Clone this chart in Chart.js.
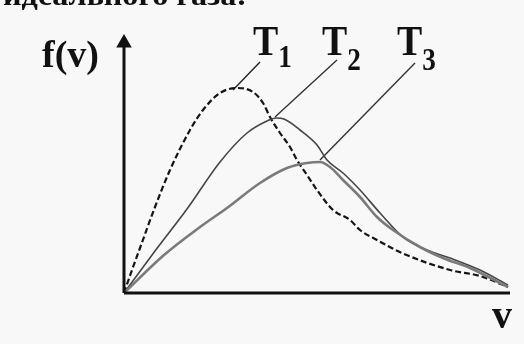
<!DOCTYPE html>
<html>
<head>
<meta charset="utf-8">
<script src="https://cdn.jsdelivr.net/npm/chart.js@4.4.0/dist/chart.umd.min.js"></script>
<style>
  html, body { margin: 0; padding: 0; background: #f8f8f8; }
</style>
</head>
<body>
<canvas id="chart" width="524" height="344"></canvas>
<script>
// speed (v) and distribution value f(v)
const vT1 = [0, 8, 16, 31, 46, 66, 79, 96, 113, 129, 139, 146, 156, 166, 173, 183, 193, 209, 226, 236, 253, 278, 326, 356, 384];
const fT1 = [0, 23, 45, 86, 123, 163, 183, 200, 205, 201, 190, 176, 160, 146, 133, 118, 103, 83, 73, 63, 53, 40, 23, 17, 6];

const vT2 = [0, 31, 63, 96, 123, 143, 152, 160, 176, 193, 203, 219, 236, 256, 279, 303, 326, 356, 384];
const fT2 = [0, 42, 84, 131, 160, 172, 175, 174, 163, 148, 133, 120, 103, 80, 56, 43, 35, 23, 8];

const vT3 = [0, 40, 76, 103, 136, 163, 183, 196, 206, 219, 236, 253, 269, 296, 319, 346, 384];
const fT3 = [0, 38, 66, 85, 110, 125, 130, 131, 126, 113, 96, 76, 63, 46, 35, 25, 6];

// leader lines from the labels down to each curve
const leaderT1 = [[136, 231], [109, 203]];
const leaderT2 = [[213, 233], [151, 176]];
const leaderT3 = [[291, 230], [196, 133]];

const seriesLabels = ['T', 'T', 'T'];
const seriesSubs = ['1', '2', '3'];

const axisV = [0, 386];
const axisF = [0, 250];

const toPoints = (xs, ys) => xs.map((x, i) => ({ x: x, y: ys[i] }));
const pairPoints = (pairs) => pairs.map(p => ({ x: p[0], y: p[1] }));

const textPlugin = {
  id: 'texts',
  beforeDraw(chart) {
    const ctx = chart.ctx;
    ctx.save();
    ctx.fillStyle = '#f8f8f8';
    ctx.fillRect(0, 0, chart.width, chart.height);
    ctx.restore();
  },
  afterDraw(chart) {
    const ctx = chart.ctx;
    const sx = chart.scales.x;
    const sy = chart.scales.y;
    ctx.save();
    ctx.fillStyle = '#111';
    ctx.textBaseline = 'alphabetic';
    ctx.textAlign = 'left';

    // heading cut off at the top of the scan
    ctx.font = 'bold 30px "Liberation Serif"';
    const head = 'идеального газа:';
    const hw = ctx.measureText(head).width;
    ctx.save();
    ctx.translate(3, 5);
    ctx.scale(244 / hw, 1);
    ctx.fillText(head, 0, 0);
    ctx.restore();

    // axis names
    ctx.font = 'bold 38px "Liberation Serif"';
    ctx.fillText('f(v)', 42, 67);
    ctx.font = 'bold 40px "Liberation Serif"';
    ctx.fillText('v', sx.getPixelForValue(368), sy.getPixelForValue(-35));

    // T1, T2, T3
    const labelX = [129, 198, 273];
    const subDrop = [12, 15, 15];
    for (let i = 0; i < seriesLabels.length; i++) {
      const lx = sx.getPixelForValue(labelX[i]);
      const ly = sy.getPixelForValue(238);
      ctx.save();
      ctx.translate(lx, ly);
      ctx.scale(0.9, 1);
      ctx.font = 'bold 42px "Liberation Serif"';
      ctx.fillText(seriesLabels[i], 0, 0);
      const tw = ctx.measureText(seriesLabels[i]).width;
      ctx.restore();
      ctx.save();
      ctx.translate(lx + tw * 0.9, ly + subDrop[i]);
      ctx.scale(0.85, 1);
      ctx.font = 'bold 32px "Liberation Serif"';
      ctx.fillText(seriesSubs[i], 0, 0);
      ctx.restore();
    }
    ctx.restore();
  }
};

const curve = (data, color, width, dash) => ({
  data: data,
  showLine: true,
  borderColor: color,
  borderWidth: width,
  borderDash: dash || [],
  pointRadius: 0,
  cubicInterpolationMode: 'monotone',
  clip: false
});

new Chart(document.getElementById('chart').getContext('2d'), {
  type: 'scatter',
  data: {
    datasets: [
      {
        data: [{ x: axisV[0], y: 0 }, { x: axisV[1], y: 0 }],
        showLine: true, borderColor: '#111', borderWidth: 3, pointRadius: 0, clip: false
      },
      {
        data: [{ x: 0, y: axisF[0] }, { x: 0, y: axisF[1] }],
        showLine: true, borderColor: '#111', borderWidth: 3,
        pointRadius: [0, 6], pointStyle: 'triangle', pointRotation: 0,
        pointBackgroundColor: '#111', pointBorderColor: '#111', clip: false
      },
      curve(toPoints(vT3, fT3), '#7a7a7a', 2.6),
      curve(toPoints(vT2, fT2), '#454545', 1.6),
      curve(toPoints(vT1, fT1), '#151515', 2.2, [6, 3]),
      curve(pairPoints(leaderT1), '#222', 1.4),
      curve(pairPoints(leaderT2), '#333', 1.4),
      curve(pairPoints(leaderT3), '#333', 1.4)
    ]
  },
  options: {
    responsive: false,
    animation: false,
    layout: { padding: { left: 124, right: 14, top: 38, bottom: 51 } },
    plugins: { legend: { display: false }, tooltip: { enabled: false } },
    scales: {
      x: { type: 'linear', display: false, min: 0, max: 386 },
      y: { type: 'linear', display: false, min: 0, max: 255 }
    }
  },
  plugins: [textPlugin]
});
</script>
</body>
</html>
